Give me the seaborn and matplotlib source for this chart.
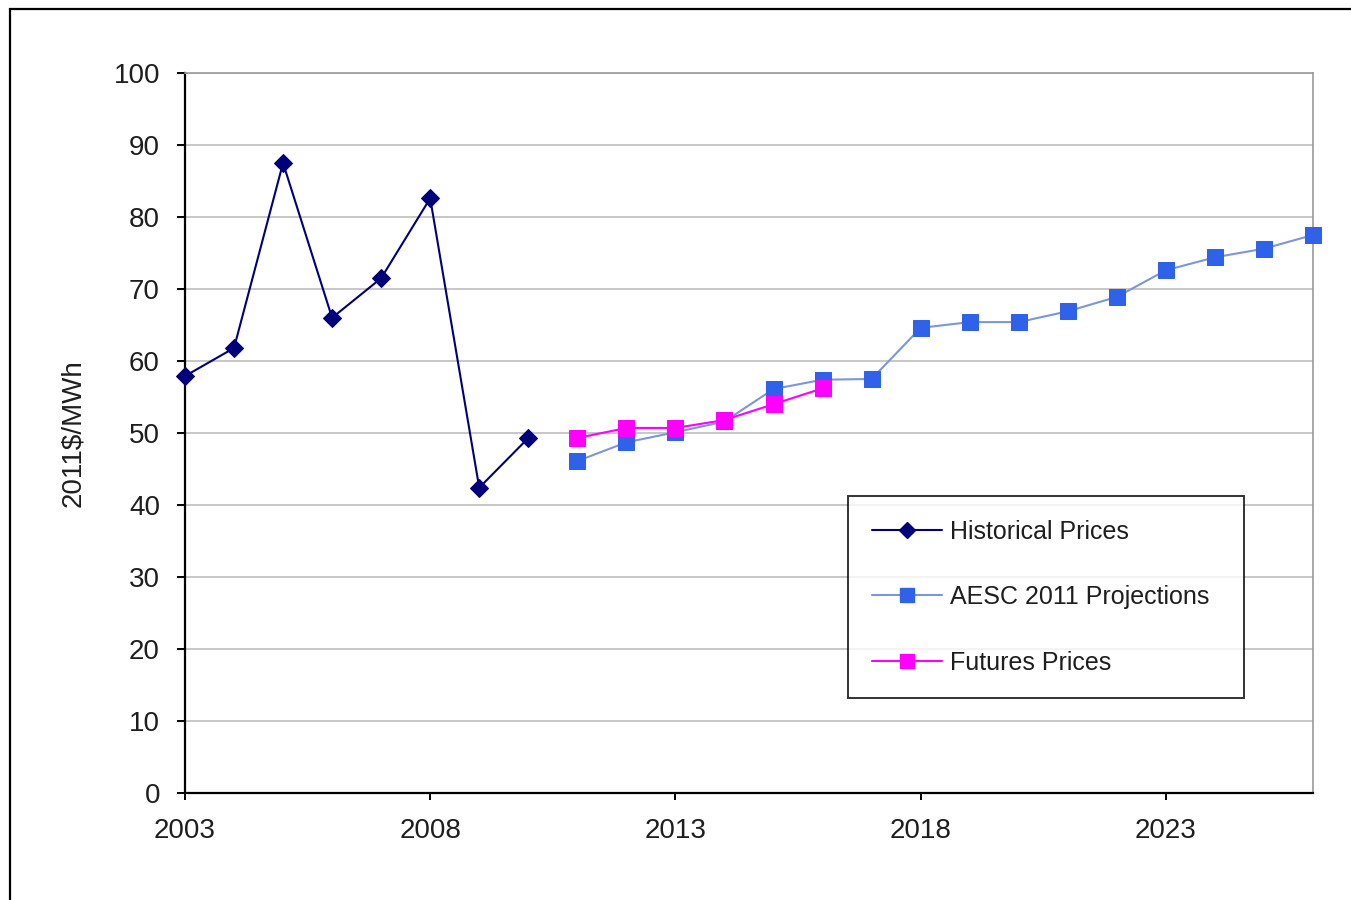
import matplotlib
matplotlib.use("Agg")
import matplotlib.pyplot as plt
import seaborn as sns
import pandas as pd
from matplotlib.patches import Rectangle
from matplotlib.lines import Line2D

# Wholesale electricity prices, 2011 dollars per MWh
hist_years = [2003, 2004, 2005, 2006, 2007, 2008, 2009, 2010]
hist_prices = [57.9, 61.8, 87.5, 66.0, 71.5, 82.6, 42.4, 49.3]

aesc_years = [2011, 2012, 2013, 2014, 2015, 2016, 2017, 2018, 2019, 2020,
              2021, 2022, 2023, 2024, 2025, 2026]
aesc_prices = [46.1, 48.7, 50.1, 51.6, 56.1, 57.4, 57.5, 64.6, 65.4, 65.4,
               66.9, 68.9, 72.6, 74.4, 75.6, 77.5]

fut_years = [2011, 2012, 2013, 2014, 2015, 2016]
fut_prices = [49.3, 50.7, 50.7, 51.8, 54.0, 56.2]

series_names = ["Historical Prices", "AESC 2011 Projections", "Futures Prices"]
x_ticks = [2003, 2008, 2013, 2018, 2023]
y_ticks = list(range(0, 101, 10))

sns.set_theme(style="white")
plt.rcParams["font.family"] = ["Liberation Sans", "DejaVu Sans"]

fig = plt.figure(figsize=(13.51, 9.0), dpi=100)
ax = fig.add_axes([0.1369, 0.1189, 0.8350, 0.8000])

hist = pd.DataFrame({"year": hist_years, "price": hist_prices})
aesc = pd.DataFrame({"year": aesc_years, "price": aesc_prices})
fut = pd.DataFrame({"year": fut_years, "price": fut_prices})

navy = "#00007A"
blue_mk = "#2F62E8"
blue_ln = "#7C96D6"
magenta = "#FF00FF"
text_col = "#1E1E1E"

sns.lineplot(data=hist, x="year", y="price", ax=ax, color=navy, lw=1.5,
             marker="D", markersize=9.0, markeredgecolor=navy,
             markerfacecolor=navy, clip_on=False, zorder=4)
sns.lineplot(data=aesc, x="year", y="price", ax=ax, color=blue_ln, lw=1.5,
             marker="s", markersize=11, markeredgecolor=blue_mk,
             markerfacecolor=blue_mk, clip_on=False, zorder=4)
sns.lineplot(data=fut, x="year", y="price", ax=ax, color=magenta, lw=1.5,
             marker="s", markersize=11, markeredgecolor=magenta,
             markerfacecolor=magenta, clip_on=False, zorder=5)

ax.set_xlim(2003, 2026)
ax.set_ylim(0, 100)
ax.set_xticks(x_ticks)
ax.set_yticks(y_ticks)
ax.set_xlabel("")
ax.set_ylabel("2011$/MWh", fontsize=20, color=text_col, labelpad=20)

ax.yaxis.grid(True, color="#BDBDBD", lw=1.2)
ax.xaxis.grid(False)
ax.set_axisbelow(True)

for side in ["left", "bottom"]:
    ax.spines[side].set_color("black")
    ax.spines[side].set_linewidth(1.6)
for side in ["top", "right"]:
    ax.spines[side].set_color("#9A9A9A")
    ax.spines[side].set_linewidth(1.2)

ax.tick_params(axis="y", which="major", direction="out", length=6, width=1.4,
               color="black", left=True, labelsize=20, labelcolor=text_col, pad=12)
ax.tick_params(axis="x", which="major", direction="out", length=5, width=1.4,
               color="black", bottom=True, labelsize=20, labelcolor=text_col, pad=13)

handles = [
    Line2D([], [], color=navy, lw=1.5, marker="D", markersize=8,
           markerfacecolor=navy, markeredgecolor=navy),
    Line2D([], [], color=blue_ln, lw=1.5, marker="s", markersize=10,
           markerfacecolor=blue_mk, markeredgecolor=blue_mk),
    Line2D([], [], color=magenta, lw=1.5, marker="s", markersize=10,
           markerfacecolor=magenta, markeredgecolor=magenta),
]
leg = ax.legend(handles, series_names, loc="upper left", mode="expand",
                bbox_to_anchor=(0.588, 0.4125, 0.351, 0.0), fontsize=18,
                frameon=True, fancybox=False, edgecolor="black",
                handlelength=2.8, handletextpad=0.3, labelspacing=1.66,
                borderpad=0.95, borderaxespad=0.0)
leg.get_frame().set_linewidth(1.4)
for t in leg.get_texts():
    t.set_color(text_col)

# outer chart border
fig.patches.append(Rectangle((10 / 1351, -0.05), 1.1, 1.05 - 9 / 900,
                             transform=fig.transFigure, fill=False,
                             edgecolor="black", lw=1.6))

fig.savefig("out.png", dpi=100, facecolor="white")
